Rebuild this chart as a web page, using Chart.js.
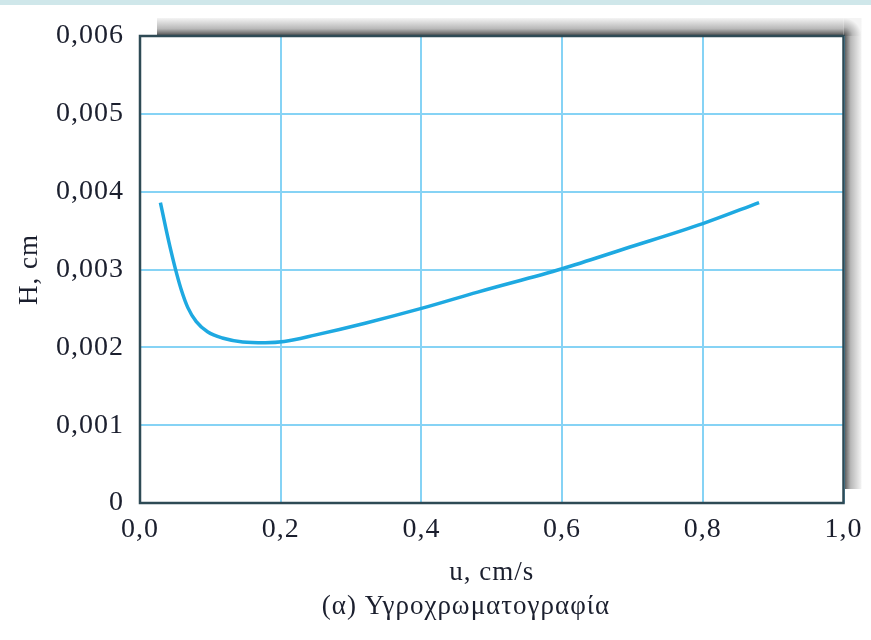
<!DOCTYPE html>
<html><head><meta charset="utf-8">
<script src="https://cdn.jsdelivr.net/npm/chart.js@4.4.1/dist/chart.umd.min.js"></script>
<style>html,body{margin:0;padding:0;background:#fff;overflow:hidden}#wrap{position:relative;width:871px;height:640px}</style>
</head><body><div id="wrap"><canvas id="c" width="871" height="640"></canvas></div>
<script>
// u, cm/s
const velocity = [0.029,0.037,0.044,0.052,0.059,0.068,0.080,0.096,0.117,0.146,0.178,0.205,0.250,0.320,0.400,0.480,0.600,0.690,0.800,0.880];
// H, cm
const plateHeight = [0.00386,0.00352,0.00324,0.00295,0.00273,0.00251,0.00233,0.00220,0.00212,0.00207,0.00206,0.002075,0.00216,0.00231,0.00250,0.00271,0.00301,0.00327,0.00359,0.00386];
const xTickLabels = ['0,0','0,2','0,4','0,6','0,8','1,0'];
const yTickLabels = ['0','0,001','0,002','0,003','0,004','0,005','0,006'];
const xTitle = 'u, cm/s';
const yTitle = 'H, cm';
const caption = '(α) Υγροχρωματογραφία';

const serif = 'Liberation Serif';
const textColor = '#1b1f2e';
const gridColor = '#86d3f5';

const decor = {
  id: 'decor',
  afterLayout(chart) {
    if (chart.titleBlock) { chart.titleBlock.left = 84; }
  },
  beforeDraw(chart) {
    const ctx = chart.ctx, a = chart.chartArea;
    ctx.save();
    ctx.fillStyle = '#cfe7ea';
    ctx.fillRect(0, 0, chart.width, 5);
    const off = 18;
    let g = ctx.createLinearGradient(0, a.top - off, 0, a.top);
    g.addColorStop(0, '#f4f4f4'); g.addColorStop(0.6, '#b8b8b8'); g.addColorStop(1, '#4a4a4a');
    ctx.fillStyle = g;
    ctx.fillRect(a.left + 17, a.top - off, a.right - a.left - 17, off);
    g = ctx.createLinearGradient(a.right, 0, a.right + off, 0);
    g.addColorStop(0, '#4a4a4a'); g.addColorStop(0.4, '#b8b8b8'); g.addColorStop(1, '#f4f4f4');
    ctx.fillStyle = g;
    ctx.fillRect(a.right, a.top, off, a.bottom - a.top - 14);
    g = ctx.createRadialGradient(a.right, a.top, 0, a.right, a.top, off);
    g.addColorStop(0, '#4a4a4a'); g.addColorStop(0.5, '#b8b8b8'); g.addColorStop(1, '#f4f4f4');
    ctx.fillStyle = g;
    ctx.fillRect(a.right, a.top - off, off, off);
    ctx.restore();
    ctx.letterSpacing = '1px';
  },
  afterDraw(chart) {
    const ctx = chart.ctx, a = chart.chartArea;
    ctx.save();
    ctx.strokeStyle = '#2e4a55';
    ctx.lineWidth = 2.5;
    ctx.strokeRect(a.left, a.top, a.right - a.left, a.bottom - a.top);
    ctx.restore();
  }
};

new Chart(document.getElementById('c'), {
  type: 'scatter',
  data: {
    datasets: [{
      data: velocity.map((u, i) => ({x: u, y: plateHeight[i]})),
      showLine: true,
      borderColor: '#1ea9e1',
      borderWidth: 3.5,
      pointRadius: 0,
      cubicInterpolationMode: 'monotone',
      fill: false
    }]
  },
  options: {
    responsive: false,
    devicePixelRatio: 1,
    animation: false,
    layout: { padding: { top: 36, right: 23, left: 0, bottom: 17 } },
    plugins: {
      legend: { display: false },
      tooltip: { enabled: false },
      title: {
        display: true, position: 'bottom', text: caption, color: textColor,
        font: { family: serif, size: 27, weight: 'normal', lineHeight: 1.2 },
        padding: { top: 0, bottom: 0 }
      }
    },
    scales: {
      x: {
        type: 'linear', min: 0, max: 1,
        afterFit(s) { s.height = 87.6; },
        ticks: { stepSize: 0.2, padding: 10, color: textColor, maxRotation: 0, autoSkip: false,
          font: { family: serif, size: 28 }, callback: (v, i) => xTickLabels[i] },
        grid: { color: gridColor, lineWidth: 2, drawTicks: false },
        border: { display: false },
        title: { display: true, text: xTitle, color: textColor, font: { family: serif, size: 27, lineHeight: 1.2 }, padding: { top: 0, bottom: 1 } }
      },
      y: {
        type: 'linear', min: 0, max: 0.006,
        afterFit(s) { s.width = 140; },
        ticks: { stepSize: 0.001, padding: 16, color: textColor,
          font: { family: serif, size: 28 }, callback: (v, i) => yTickLabels[i] },
        grid: { color: gridColor, lineWidth: 2, drawTicks: false },
        border: { display: false },
        title: { display: true, text: yTitle, color: textColor, font: { family: serif, size: 27, lineHeight: 1.2 }, padding: { top: 14, bottom: 0 } }
      }
    }
  },
  plugins: [decor]
});
</script></body></html>
